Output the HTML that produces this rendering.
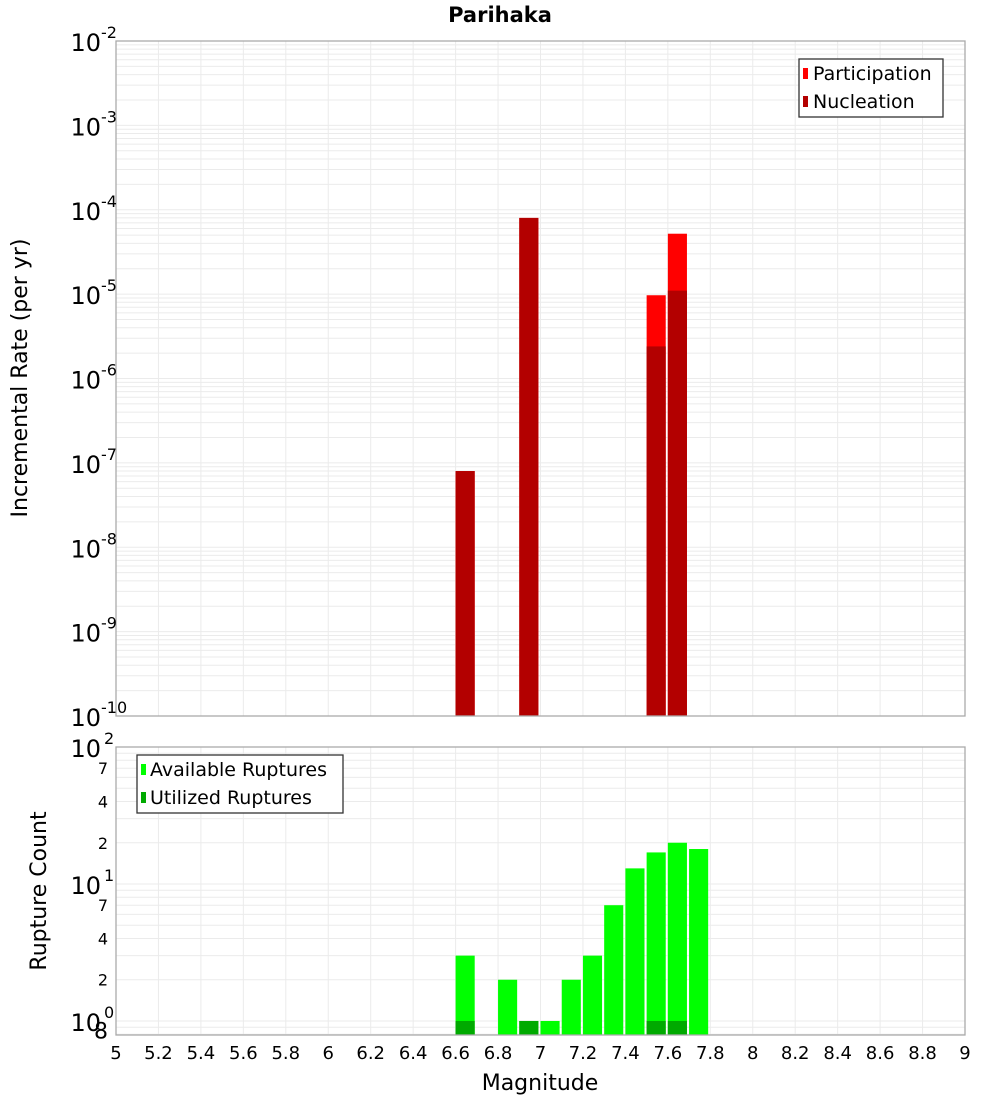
<!DOCTYPE html>
<html><head><meta charset="utf-8"><style>
html,body{margin:0;padding:0;background:#fff;}
svg{display:block;font-family:"DejaVu Sans","Liberation Sans",sans-serif;}
</style></head><body>
<svg id="c" width="1000" height="1100" viewBox="0 0 1000 1100">
<text x="500" y="22" text-anchor="middle" font-weight="bold" font-size="21">Parihaka</text>
<g id="topPlot"></g>
<g id="botPlot"></g>
<text transform="translate(27,378) rotate(-90)" text-anchor="middle" font-size="22">Incremental Rate (per yr)</text>
<text transform="translate(46,891) rotate(-90)" text-anchor="middle" font-size="22">Rupture Count</text>
<text x="540" y="1090" text-anchor="middle" font-size="22">Magnitude</text>
<g>
<rect x="799" y="59" width="144" height="58" fill="#fff" stroke="#333" stroke-width="1.3"/>
<rect x="803" y="68" width="5" height="11" fill="#ff0000"/>
<text x="813" y="80" font-size="19">Participation</text>
<rect x="803" y="96" width="5" height="11" fill="#b30000"/>
<text x="813" y="108" font-size="19">Nucleation</text>
</g>
<g>
<rect x="137" y="755" width="206" height="58" fill="#fff" stroke="#333" stroke-width="1.3"/>
<rect x="141" y="764" width="5" height="11" fill="#00ff00"/>
<text x="150" y="776" font-size="19">Available Ruptures</text>
<rect x="141" y="792" width="5" height="11" fill="#00aa00"/>
<text x="150" y="804" font-size="19">Utilized Ruptures</text>
</g>
</svg>
<script>
const mags = [6.65, 6.95, 7.55, 7.65];
const participation = [8e-8, 8e-5, 9.7e-6, 5.2e-5];
const nucleation = [8e-8, 8e-5, 2.4e-6, 1.1e-5];
const countMags = [6.65, 6.85, 6.95, 7.05, 7.15, 7.25, 7.35, 7.45, 7.55, 7.65, 7.75];
const available = [3, 2, 1, 1, 2, 3, 7, 13, 17, 20, 18];
const utilMags = [6.65, 6.95, 7.55, 7.65];
const utilized = [1, 1, 1, 1];
const xTicks = ["5","5.2","5.4","5.6","5.8","6","6.2","6.4","6.6","6.8","7","7.2","7.4","7.6","7.8","8","8.2","8.4","8.6","8.8","9"];
const topExps = [-2,-3,-4,-5,-6,-7,-8,-9,-10];

const NS="http://www.w3.org/2000/svg";
const L=116,R=965;
const X=m=>L+(m-5)/(9-5)*(R-L);
const T0=41,T1=716, Ytop=v=>T0+(-2-Math.log10(v))/8*(T1-T0);
const B0=747,B1=1035,bMin=0.79,bMax=100;
const Ybot=v=>B0+(Math.log10(bMax)-Math.log10(v))/(Math.log10(bMax)-Math.log10(bMin))*(B1-B0);
function mk(p,tag,a,txt){const e=document.createElementNS(NS,tag);for(const k in a)e.setAttribute(k,a[k]);if(txt!==undefined)e.textContent=txt;p.appendChild(e);return e;}
const topG=document.getElementById('topPlot'),botG=document.getElementById('botPlot');
const svgEl=document.getElementById('c');

function grid(g,y0,y1,yf,lo,hi){
  for(let d=lo;d<hi;d++)for(let k=1;k<10;k++){const v=k*Math.pow(10,d);const y=yf(v);if(y<y0-0.5||y>y1+0.5)continue;
    const ln=mk(g,'line',{x1:L,x2:R,y1:y,y2:y,stroke:'#ebebeb','stroke-width':1});
    
    }
  xTicks.forEach(t=>{const x=X(+t);const ln=mk(g,'line',{x1:x,x2:x,y1:y0,y2:y1,stroke:'#ebebeb','stroke-width':1});
    
    });
}
grid(topG,T0,T1,Ytop,-10,-1);
grid(botG,B0,B1,Ybot,-1,2);

const bw=(R-L)/40*0.9;
function bar(g,m,v,yf,yb,fill,name){const x=X(m-0.05),y=yf(v);const r=mk(g,'rect',{x:x,y:y,width:bw,height:yb-y,fill:fill});
  
  }
mags.forEach((m,i)=>bar(topG,m,participation[i],Ytop,T1,'#ff0000','bar-participation'));
mags.forEach((m,i)=>bar(topG,m,nucleation[i],Ytop,T1,'#b30000','bar-nucleation'));
countMags.forEach((m,i)=>bar(botG,m,available[i],Ybot,B1,'#00ff00','bar-available'));
utilMags.forEach((m,i)=>bar(botG,m,utilized[i],Ybot,B1,'#00aa00','bar-utilized'));

[[T0,T1,'rate-plot-frame'],[B0,B1,'count-plot-frame']].forEach(([a,b,n])=>{const r=mk(svgEl,'rect',{x:L,y:a,width:R-L,height:b-a,fill:'none',stroke:'#aaa','stroke-width':1.3});
  
  });

topExps.forEach(e=>{const y=Ytop(Math.pow(10,e));
  const t=mk(svgEl,'text',{x:101,y:y+10,'text-anchor':'end','font-size':24},'10');
  
  
  const s=mk(svgEl,'text',{x:101,y:y-3,'font-size':16},String(e));
  
  
});
[[100,'2'],[10,'1'],[1,'0']].forEach(([v,e])=>{const y=Ybot(v);
  const t=mk(svgEl,'text',{x:101,y:y+10,'text-anchor':'end','font-size':24},'10');
  
  
  const s=mk(svgEl,'text',{x:104,y:y-3,'font-size':16},e);
  
  });
[70,40,20,7,4,2,0.8].forEach(v=>{const y=Ybot(v);
  const t=mk(svgEl,'text',{x:108,y:y+(v<1?4:6),'text-anchor':'end','font-size':v<1?22:16},v<1?'8':String(v<10?v:v/10));
  
  });
xTicks.forEach(l=>{const t=mk(svgEl,'text',{x:X(+l),y:1059,'text-anchor':'middle','font-size':18},l);
  
  });
</script>
</body></html>
